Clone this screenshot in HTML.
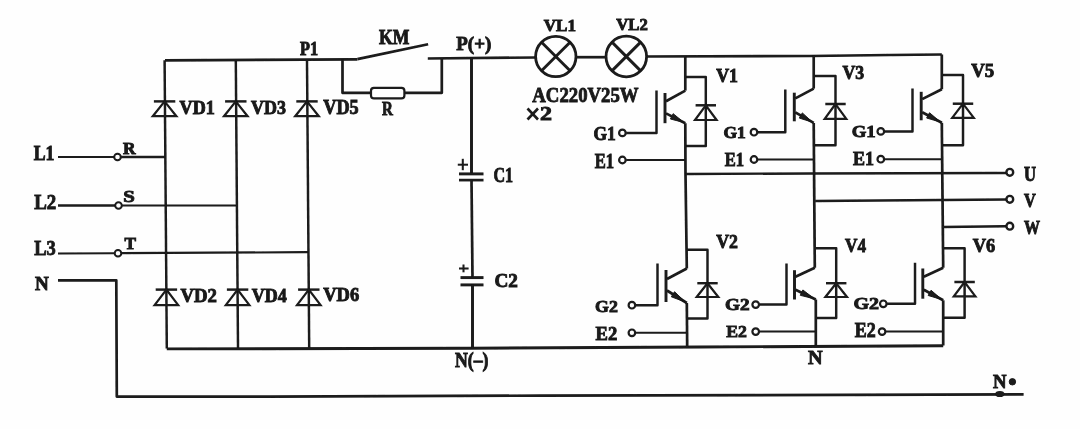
<!DOCTYPE html>
<html><head><meta charset="utf-8"><style>
html,body{margin:0;padding:0;background:#fff;}
svg{display:block;will-change:transform;}
text{fill:#1a1a1a;}
</style></head><body>
<svg width="1080" height="429" viewBox="0 0 1080 429">
<defs><filter id="b" x="0" y="0" width="1080" height="429" filterUnits="userSpaceOnUse"><feGaussianBlur stdDeviation="0.4"/></filter></defs>
<rect width="1080" height="429" fill="#fefefe"/>
<g filter="url(#b)">
<text x="33.75" y="160.25" font-family="Liberation Serif" font-weight="bold" font-size="20.31" textLength="20.76" lengthAdjust="spacingAndGlyphs" stroke="#1a1a1a" stroke-width="0.9">L1</text>
<path d="M58,157 L114,157" stroke="#1a1a1a" stroke-width="2.02" fill="none" stroke-linejoin="round"/>
<circle cx="117.5" cy="157" r="3.3" stroke="#1a1a1a" stroke-width="2" fill="none"/>
<path d="M121,157 L165,157" stroke="#1a1a1a" stroke-width="2.46" fill="none" stroke-linejoin="round"/>
<text x="123.00" y="154.25" font-family="Liberation Serif" font-weight="bold" font-size="16.51" textLength="12.54" lengthAdjust="spacingAndGlyphs" stroke="#1a1a1a" stroke-width="0.9">R</text>
<text x="34.25" y="208.75" font-family="Liberation Serif" font-weight="bold" font-size="20.33" textLength="22.02" lengthAdjust="spacingAndGlyphs" stroke="#1a1a1a" stroke-width="0.9">L2</text>
<path d="M58,205.5 L115,205.5" stroke="#1a1a1a" stroke-width="2.46" fill="none" stroke-linejoin="round"/>
<circle cx="118.5" cy="205.5" r="3.3" stroke="#1a1a1a" stroke-width="2" fill="none"/>
<path d="M122,205.5 L236,205.5" stroke="#1a1a1a" stroke-width="2.02" fill="none" stroke-linejoin="round"/>
<text x="123.25" y="201.50" font-family="Liberation Serif" font-weight="bold" font-size="17.67" textLength="11.61" lengthAdjust="spacingAndGlyphs" stroke="#1a1a1a" stroke-width="0.9">S</text>
<text x="34.25" y="255.25" font-family="Liberation Serif" font-weight="bold" font-size="21.15" textLength="21.51" lengthAdjust="spacingAndGlyphs" stroke="#1a1a1a" stroke-width="0.9">L3</text>
<path d="M58,253.5 L114,253.3" stroke="#1a1a1a" stroke-width="2.02" fill="none" stroke-linejoin="round"/>
<circle cx="118" cy="253.2" r="3.3" stroke="#1a1a1a" stroke-width="2" fill="none"/>
<path d="M121.5,253.2 L308,252.2" stroke="#1a1a1a" stroke-width="2.24" fill="none" stroke-linejoin="round"/>
<text x="124.50" y="248.75" font-family="Liberation Serif" font-weight="bold" font-size="17.27" textLength="11.52" lengthAdjust="spacingAndGlyphs" stroke="#1a1a1a" stroke-width="0.9">T</text>
<text x="35.00" y="289.75" font-family="Liberation Serif" font-weight="bold" font-size="18.79" textLength="13.75" lengthAdjust="spacingAndGlyphs" stroke="#1a1a1a" stroke-width="0.9">N</text>
<path d="M58,280.3 L116.3,280.3 L116.8,396.6 L270,396.6 L540,395.6 L1023.6,394.4" stroke="#1a1a1a" stroke-width="2.69" fill="none" stroke-linejoin="round"/>
<ellipse cx="999.8" cy="394" rx="4.6" ry="3.1" fill="#1a1a1a"/>
<text x="993.00" y="387.75" font-family="Liberation Serif" font-weight="bold" font-size="18.77" textLength="13.51" lengthAdjust="spacingAndGlyphs" stroke="#1a1a1a" stroke-width="0.9">N</text>
<circle cx="1012.4" cy="381.8" r="3.2" stroke="#1a1a1a" stroke-width="1" fill="#1a1a1a"/>
<path d="M164.6,60.3 L166.8,348.5" stroke="#1a1a1a" stroke-width="2.46" fill="none" stroke-linejoin="round"/>
<path d="M235.8,60.3 L238,348.5" stroke="#1a1a1a" stroke-width="2.46" fill="none" stroke-linejoin="round"/>
<path d="M307,60.3 L309.2,348.5" stroke="#1a1a1a" stroke-width="2.46" fill="none" stroke-linejoin="round"/>
<path d="M165,60.3 L357.4,59.3" stroke="#1a1a1a" stroke-width="2.69" fill="none" stroke-linejoin="round"/>
<path d="M166.8,348.9 L470,348.2 L700,347 L943.2,345.7" stroke="#1a1a1a" stroke-width="2.91" fill="none" stroke-linejoin="round"/>
<path d="M153.9,101.4 L175.3,101.4" stroke="#1a1a1a" stroke-width="2.46" fill="none" stroke-linejoin="round"/>
<path d="M164.6,101.4 L152.8,116.2 L176.4,116.2 Z" stroke="#1a1a1a" stroke-width="2.2" fill="none" stroke-linejoin="miter"/>
<path d="M155.7,289.6 L177.1,289.6" stroke="#1a1a1a" stroke-width="2.46" fill="none" stroke-linejoin="round"/>
<path d="M166.4,289.6 L154.6,305.2 L178.2,305.2 Z" stroke="#1a1a1a" stroke-width="2.2" fill="none" stroke-linejoin="miter"/>
<path d="M225.1,101.4 L246.5,101.4" stroke="#1a1a1a" stroke-width="2.46" fill="none" stroke-linejoin="round"/>
<path d="M235.8,101.4 L224,116.2 L247.6,116.2 Z" stroke="#1a1a1a" stroke-width="2.2" fill="none" stroke-linejoin="miter"/>
<path d="M226.9,289.6 L248.3,289.6" stroke="#1a1a1a" stroke-width="2.46" fill="none" stroke-linejoin="round"/>
<path d="M237.6,289.6 L225.8,305.2 L249.4,305.2 Z" stroke="#1a1a1a" stroke-width="2.2" fill="none" stroke-linejoin="miter"/>
<path d="M296.3,101.4 L317.7,101.4" stroke="#1a1a1a" stroke-width="2.46" fill="none" stroke-linejoin="round"/>
<path d="M307,101.4 L295.2,116.2 L318.8,116.2 Z" stroke="#1a1a1a" stroke-width="2.2" fill="none" stroke-linejoin="miter"/>
<path d="M298.1,289.6 L319.5,289.6" stroke="#1a1a1a" stroke-width="2.46" fill="none" stroke-linejoin="round"/>
<path d="M308.8,289.6 L297,305.2 L320.6,305.2 Z" stroke="#1a1a1a" stroke-width="2.2" fill="none" stroke-linejoin="miter"/>
<text x="179.55" y="114.25" font-family="Liberation Serif" font-weight="bold" font-size="18.99" textLength="35.27" lengthAdjust="spacingAndGlyphs" stroke="#1a1a1a" stroke-width="0.9">VD1</text>
<text x="250.95" y="114.25" font-family="Liberation Serif" font-weight="bold" font-size="18.99" textLength="35.01" lengthAdjust="spacingAndGlyphs" stroke="#1a1a1a" stroke-width="0.9">VD3</text>
<text x="323.25" y="114.25" font-family="Liberation Serif" font-weight="bold" font-size="20.00" textLength="35.50" lengthAdjust="spacingAndGlyphs" stroke="#1a1a1a" stroke-width="0.9">VD5</text>
<text x="180.50" y="301.75" font-family="Liberation Serif" font-weight="bold" font-size="18.87" textLength="36.50" lengthAdjust="spacingAndGlyphs" stroke="#1a1a1a" stroke-width="0.9">VD2</text>
<text x="251.75" y="301.75" font-family="Liberation Serif" font-weight="bold" font-size="18.86" textLength="35.00" lengthAdjust="spacingAndGlyphs" stroke="#1a1a1a" stroke-width="0.9">VD4</text>
<text x="323.25" y="300.75" font-family="Liberation Serif" font-weight="bold" font-size="18.90" textLength="36.00" lengthAdjust="spacingAndGlyphs" stroke="#1a1a1a" stroke-width="0.9">VD6</text>
<text x="300.00" y="54.75" font-family="Liberation Serif" font-weight="bold" font-size="18.00" textLength="18.03" lengthAdjust="spacingAndGlyphs" stroke="#1a1a1a" stroke-width="0.9">P1</text>
<path d="M357.4,59.1 L428.1,44.2" stroke="#1a1a1a" stroke-width="2.69" fill="none" stroke-linejoin="round"/>
<path d="M427.8,58.5 L535.6,57.5" stroke="#1a1a1a" stroke-width="2.69" fill="none" stroke-linejoin="round"/>
<path d="M342.5,59.3 L342.5,92.8 L371,92.8" stroke="#1a1a1a" stroke-width="2.69" fill="none" stroke-linejoin="round"/>
<path d="M404,92.8 L441.8,92.8 L441.8,58.5" stroke="#1a1a1a" stroke-width="2.69" fill="none" stroke-linejoin="round"/>
<rect x="371" y="87.8" width="33.4" height="10.6" rx="3" stroke="#1a1a1a" stroke-width="2.2" fill="#fff"/>
<text x="379.00" y="43.50" font-family="Liberation Serif" font-weight="bold" font-size="19.93" textLength="30.25" lengthAdjust="spacingAndGlyphs" stroke="#1a1a1a" stroke-width="0.9">KM</text>
<text x="382.00" y="114.85" font-family="Liberation Serif" font-weight="bold" font-size="18.60" textLength="10.86" lengthAdjust="spacingAndGlyphs" stroke="#1a1a1a" stroke-width="0.9">R</text>
<text x="456.3" y="50.2" font-family="Liberation Serif" font-weight="bold" font-size="19.5" textLength="35" lengthAdjust="spacingAndGlyphs" stroke="#1a1a1a" stroke-width="0.9">P(+)</text>
<path d="M471.5,57.8 L471.5,173.9" stroke="#1a1a1a" stroke-width="2.91" fill="none" stroke-linejoin="round"/>
<path d="M459,173.9 L483.5,173.9" stroke="#1a1a1a" stroke-width="2.91" fill="none" stroke-linejoin="round"/>
<path d="M459,180.1 L483.5,180.1" stroke="#1a1a1a" stroke-width="2.69" fill="none" stroke-linejoin="round"/>
<path d="M471.5,180.1 L472.5,277.6" stroke="#1a1a1a" stroke-width="2.69" fill="none" stroke-linejoin="round"/>
<path d="M460.5,277.6 L483.5,277.6" stroke="#1a1a1a" stroke-width="2.91" fill="none" stroke-linejoin="round"/>
<path d="M460.5,284.9 L483.5,284.9" stroke="#1a1a1a" stroke-width="2.91" fill="none" stroke-linejoin="round"/>
<path d="M472.5,284.9 L472.5,348" stroke="#1a1a1a" stroke-width="2.91" fill="none" stroke-linejoin="round"/>
<path d="M457.8,164.7 L468,164.7" stroke="#1a1a1a" stroke-width="2.02" fill="none" stroke-linejoin="round"/>
<path d="M462.8,158.8 L462.8,170.2" stroke="#1a1a1a" stroke-width="2.02" fill="none" stroke-linejoin="round"/>
<path d="M459,268.5 L468.6,268.5" stroke="#1a1a1a" stroke-width="2.02" fill="none" stroke-linejoin="round"/>
<path d="M463.5,264.5 L463.5,272.3" stroke="#1a1a1a" stroke-width="2.02" fill="none" stroke-linejoin="round"/>
<text x="493.50" y="181.50" font-family="Liberation Serif" font-weight="bold" font-size="19.93" textLength="19.56" lengthAdjust="spacingAndGlyphs" stroke="#1a1a1a" stroke-width="0.9">C1</text>
<text x="494.50" y="287.00" font-family="Liberation Serif" font-weight="bold" font-size="19.17" textLength="23.46" lengthAdjust="spacingAndGlyphs" stroke="#1a1a1a" stroke-width="0.9">C2</text>
<text x="455" y="366.6" font-family="Liberation Serif" font-weight="bold" font-size="20.5" textLength="33.5" lengthAdjust="spacingAndGlyphs" stroke="#1a1a1a" stroke-width="0.9">N(–)</text>
<circle cx="555.8" cy="56.5" r="20.2" stroke="#1a1a1a" stroke-width="2.8" fill="none"/>
<path d="M541.517,42.2166 L570.083,70.7834" stroke="#1a1a1a" stroke-width="2.91" fill="none" stroke-linejoin="round"/>
<path d="M541.517,70.7834 L570.083,42.2166" stroke="#1a1a1a" stroke-width="2.91" fill="none" stroke-linejoin="round"/>
<circle cx="626.3" cy="56.5" r="20.3" stroke="#1a1a1a" stroke-width="2.8" fill="none"/>
<path d="M611.946,42.1459 L640.654,70.8541" stroke="#1a1a1a" stroke-width="2.91" fill="none" stroke-linejoin="round"/>
<path d="M611.946,70.8541 L640.654,42.1459" stroke="#1a1a1a" stroke-width="2.91" fill="none" stroke-linejoin="round"/>
<path d="M576,57.2 L606,57.2" stroke="#1a1a1a" stroke-width="2.69" fill="none" stroke-linejoin="round"/>
<path d="M646.6,56.5 L810,56 L890,55 L941.8,54.5" stroke="#1a1a1a" stroke-width="2.69" fill="none" stroke-linejoin="round"/>
<text x="543.75" y="30.50" font-family="Liberation Serif" font-weight="bold" font-size="17.66" textLength="32.26" lengthAdjust="spacingAndGlyphs" stroke="#1a1a1a" stroke-width="0.9">VL1</text>
<text x="616.25" y="30.00" font-family="Liberation Serif" font-weight="bold" font-size="16.90" textLength="31.51" lengthAdjust="spacingAndGlyphs" stroke="#1a1a1a" stroke-width="0.9">VL2</text>
<text x="532.30" y="101.60" font-family="Liberation Serif" font-weight="bold" font-size="21.83" textLength="106.30" lengthAdjust="spacingAndGlyphs" stroke="#1a1a1a" stroke-width="0.9">AC220V25W</text>
<path d="M527.5,108.5 L538,119.5" stroke="#1a1a1a" stroke-width="2.58" fill="none" stroke-linejoin="round"/>
<path d="M527.5,119.5 L538,108.5" stroke="#1a1a1a" stroke-width="2.58" fill="none" stroke-linejoin="round"/>
<text x="540.00" y="120.40" font-family="Liberation Serif" font-weight="bold" font-size="19.85" textLength="12.00" lengthAdjust="spacingAndGlyphs" stroke="#1a1a1a" stroke-width="0.9">2</text>
<path d="M685.3,77 L705.8,77 L705.8,146.1 L685.3,146.1" stroke="#1a1a1a" stroke-width="2.46" fill="none" stroke-linejoin="round"/>
<path d="M685.3,90.6 L666,101.2" stroke="#1a1a1a" stroke-width="2.69" fill="none" stroke-linejoin="round"/>
<path d="M666,113.4 L685.3,123.2" stroke="#1a1a1a" stroke-width="2.69" fill="none" stroke-linejoin="round"/>
<path d="M670.43,119.01 L683.95,122.51 L673.15,113.67 Z" fill="#1a1a1a" stroke="#1a1a1a" stroke-width="1"/>
<path d="M665,93 L665,123.2" stroke="#1a1a1a" stroke-width="2.91" fill="none" stroke-linejoin="round"/>
<path d="M626.2,132.9 L656.5,132.9 L656.5,90.6" stroke="#1a1a1a" stroke-width="2.46" fill="none" stroke-linejoin="round"/>
<circle cx="622.4" cy="132.9" r="3.3" stroke="#1a1a1a" stroke-width="2.2" fill="none"/>
<circle cx="622.4" cy="160" r="3.3" stroke="#1a1a1a" stroke-width="2.2" fill="none"/>
<path d="M626.2,160 L685.3,160" stroke="#1a1a1a" stroke-width="2.02" fill="none" stroke-linejoin="round"/>
<path d="M695.6,105.3 L716,105.3" stroke="#1a1a1a" stroke-width="2.46" fill="none" stroke-linejoin="round"/>
<path d="M705.8,105.3 L695,120 L716.6,120 Z" stroke="#1a1a1a" stroke-width="2.2" fill="none" stroke-linejoin="miter"/>
<path d="M813.7,76 L835.5,76 L835.5,145.3 L813.7,145.3" stroke="#1a1a1a" stroke-width="2.46" fill="none" stroke-linejoin="round"/>
<path d="M813.7,88.6 L795.3,98.4" stroke="#1a1a1a" stroke-width="2.69" fill="none" stroke-linejoin="round"/>
<path d="M795.3,112.3 L813.7,122.9" stroke="#1a1a1a" stroke-width="2.69" fill="none" stroke-linejoin="round"/>
<path d="M799.32,118.08 L812.41,122.16 L802.32,112.88 Z" fill="#1a1a1a" stroke="#1a1a1a" stroke-width="1"/>
<path d="M794.3,92.7 L794.3,121.3" stroke="#1a1a1a" stroke-width="2.91" fill="none" stroke-linejoin="round"/>
<path d="M757.8,132.2 L785.3,132.2 L785.3,89.5" stroke="#1a1a1a" stroke-width="2.46" fill="none" stroke-linejoin="round"/>
<circle cx="754" cy="132.2" r="3.3" stroke="#1a1a1a" stroke-width="2.2" fill="none"/>
<circle cx="754" cy="159.5" r="3.3" stroke="#1a1a1a" stroke-width="2.2" fill="none"/>
<path d="M757.8,159.5 L813.7,159.5" stroke="#1a1a1a" stroke-width="2.02" fill="none" stroke-linejoin="round"/>
<path d="M825.3,104 L845.7,104" stroke="#1a1a1a" stroke-width="2.46" fill="none" stroke-linejoin="round"/>
<path d="M835.5,104 L824.7,118.8 L846.3,118.8 Z" stroke="#1a1a1a" stroke-width="2.2" fill="none" stroke-linejoin="miter"/>
<path d="M941.8,75 L963,75 L963,145.3 L941.8,145.3" stroke="#1a1a1a" stroke-width="2.46" fill="none" stroke-linejoin="round"/>
<path d="M941.8,89.3 L922.2,99.1" stroke="#1a1a1a" stroke-width="2.69" fill="none" stroke-linejoin="round"/>
<path d="M922.2,112.2 L941.8,122.8" stroke="#1a1a1a" stroke-width="2.69" fill="none" stroke-linejoin="round"/>
<path d="M926.65,118.02 L940.43,122.06 L929.51,112.74 Z" fill="#1a1a1a" stroke="#1a1a1a" stroke-width="1"/>
<path d="M921.2,91.8 L921.2,120.3" stroke="#1a1a1a" stroke-width="2.91" fill="none" stroke-linejoin="round"/>
<path d="M884.6,131.4 L912.5,131.4 L912.5,88.5" stroke="#1a1a1a" stroke-width="2.46" fill="none" stroke-linejoin="round"/>
<circle cx="880.8" cy="131.4" r="3.3" stroke="#1a1a1a" stroke-width="2.2" fill="none"/>
<circle cx="880.8" cy="159.2" r="3.3" stroke="#1a1a1a" stroke-width="2.2" fill="none"/>
<path d="M884.6,159.2 L941.8,159.2" stroke="#1a1a1a" stroke-width="2.02" fill="none" stroke-linejoin="round"/>
<path d="M952.8,103.7 L973.2,103.7" stroke="#1a1a1a" stroke-width="2.46" fill="none" stroke-linejoin="round"/>
<path d="M963,103.7 L952.2,117.9 L973.8,117.9 Z" stroke="#1a1a1a" stroke-width="2.2" fill="none" stroke-linejoin="miter"/>
<path d="M686.8,249.8 L707.5,249.8 L707.5,318.6 L686.8,318.6" stroke="#1a1a1a" stroke-width="2.46" fill="none" stroke-linejoin="round"/>
<path d="M686.8,268.5 L667,279" stroke="#1a1a1a" stroke-width="2.69" fill="none" stroke-linejoin="round"/>
<path d="M667,290.5 L686.8,303" stroke="#1a1a1a" stroke-width="2.69" fill="none" stroke-linejoin="round"/>
<path d="M671.34,296.79 L685.41,302.12 L674.54,291.71 Z" fill="#1a1a1a" stroke="#1a1a1a" stroke-width="1"/>
<path d="M666,270 L666,302" stroke="#1a1a1a" stroke-width="2.91" fill="none" stroke-linejoin="round"/>
<path d="M635.7,305.2 L657.5,305.2 L657.5,263.6" stroke="#1a1a1a" stroke-width="2.46" fill="none" stroke-linejoin="round"/>
<circle cx="631.9" cy="305.2" r="3.3" stroke="#1a1a1a" stroke-width="2.2" fill="none"/>
<circle cx="631.9" cy="332.8" r="3.3" stroke="#1a1a1a" stroke-width="2.2" fill="none"/>
<path d="M635.7,332.8 L686.8,332.8" stroke="#1a1a1a" stroke-width="2.02" fill="none" stroke-linejoin="round"/>
<path d="M697.3,283.2 L717.7,283.2" stroke="#1a1a1a" stroke-width="2.46" fill="none" stroke-linejoin="round"/>
<path d="M707.5,283.2 L696.7,297 L718.3,297 Z" stroke="#1a1a1a" stroke-width="2.2" fill="none" stroke-linejoin="miter"/>
<path d="M814.8,248.2 L836.2,248.2 L836.2,318 L815.8,318" stroke="#1a1a1a" stroke-width="2.46" fill="none" stroke-linejoin="round"/>
<path d="M814.8,267.7 L795.5,276.7" stroke="#1a1a1a" stroke-width="2.69" fill="none" stroke-linejoin="round"/>
<path d="M795.5,289.7 L815.8,299.5" stroke="#1a1a1a" stroke-width="2.69" fill="none" stroke-linejoin="round"/>
<path d="M800.29,295.34 L814.38,298.81 L802.89,289.94 Z" fill="#1a1a1a" stroke="#1a1a1a" stroke-width="1"/>
<path d="M794.5,270.2 L794.5,299.5" stroke="#1a1a1a" stroke-width="2.91" fill="none" stroke-linejoin="round"/>
<path d="M759.5,304.6 L786.5,304.6 L786.5,263.6" stroke="#1a1a1a" stroke-width="2.46" fill="none" stroke-linejoin="round"/>
<circle cx="755.7" cy="304.6" r="3.3" stroke="#1a1a1a" stroke-width="2.2" fill="none"/>
<circle cx="755.7" cy="331.6" r="3.3" stroke="#1a1a1a" stroke-width="2.2" fill="none"/>
<path d="M759.5,331.6 L815.8,331.6" stroke="#1a1a1a" stroke-width="2.02" fill="none" stroke-linejoin="round"/>
<path d="M826,283.2 L846.4,283.2" stroke="#1a1a1a" stroke-width="2.46" fill="none" stroke-linejoin="round"/>
<path d="M836.2,283.2 L825.4,297 L847,297 Z" stroke="#1a1a1a" stroke-width="2.2" fill="none" stroke-linejoin="miter"/>
<path d="M943.2,248.2 L964.6,248.2 L964.6,317.7 L943.2,317.7" stroke="#1a1a1a" stroke-width="2.46" fill="none" stroke-linejoin="round"/>
<path d="M943.2,267.7 L923.8,276.7" stroke="#1a1a1a" stroke-width="2.69" fill="none" stroke-linejoin="round"/>
<path d="M923.8,289.7 L943.2,300.3" stroke="#1a1a1a" stroke-width="2.69" fill="none" stroke-linejoin="round"/>
<path d="M928.18,295.51 L941.84,299.56 L931.06,290.25 Z" fill="#1a1a1a" stroke="#1a1a1a" stroke-width="1"/>
<path d="M922.8,268.5 L922.8,298.7" stroke="#1a1a1a" stroke-width="2.91" fill="none" stroke-linejoin="round"/>
<path d="M887.1,303.8 L915,303.8 L915,262.8" stroke="#1a1a1a" stroke-width="2.46" fill="none" stroke-linejoin="round"/>
<circle cx="883.3" cy="303.8" r="3.3" stroke="#1a1a1a" stroke-width="2.2" fill="none"/>
<circle cx="882.1" cy="331.6" r="3.3" stroke="#1a1a1a" stroke-width="2.2" fill="none"/>
<path d="M885.9,331.6 L943.2,331.6" stroke="#1a1a1a" stroke-width="2.02" fill="none" stroke-linejoin="round"/>
<path d="M954.4,282 L974.8,282" stroke="#1a1a1a" stroke-width="2.46" fill="none" stroke-linejoin="round"/>
<path d="M964.6,282 L953.8,296.3 L975.4,296.3 Z" stroke="#1a1a1a" stroke-width="2.2" fill="none" stroke-linejoin="miter"/>
<path d="M685.3,56.5 L685.3,90.6" stroke="#1a1a1a" stroke-width="2.69" fill="none" stroke-linejoin="round"/>
<path d="M685.3,123.2 L685.5,174 L686.8,268.5" stroke="#1a1a1a" stroke-width="2.69" fill="none" stroke-linejoin="round"/>
<path d="M686.8,303 L687.2,347" stroke="#1a1a1a" stroke-width="2.69" fill="none" stroke-linejoin="round"/>
<path d="M813.7,55.8 L813.7,88.6" stroke="#1a1a1a" stroke-width="2.69" fill="none" stroke-linejoin="round"/>
<path d="M813.7,122.9 L814.8,267.7" stroke="#1a1a1a" stroke-width="2.69" fill="none" stroke-linejoin="round"/>
<path d="M815.8,299.5 L815.8,345.8" stroke="#1a1a1a" stroke-width="2.69" fill="none" stroke-linejoin="round"/>
<path d="M941.8,54.5 L941.8,89.3" stroke="#1a1a1a" stroke-width="2.69" fill="none" stroke-linejoin="round"/>
<path d="M941.8,122.8 L943.2,267.7" stroke="#1a1a1a" stroke-width="2.69" fill="none" stroke-linejoin="round"/>
<path d="M943.2,300.3 L943.2,345.5" stroke="#1a1a1a" stroke-width="2.69" fill="none" stroke-linejoin="round"/>
<path d="M685.3,173.9 L810,173.5 L1006.5,173" stroke="#1a1a1a" stroke-width="2.46" fill="none" stroke-linejoin="round"/>
<path d="M815.2,201 L1006,199.4" stroke="#1a1a1a" stroke-width="2.46" fill="none" stroke-linejoin="round"/>
<path d="M942.5,227 L1006,226.3" stroke="#1a1a1a" stroke-width="2.46" fill="none" stroke-linejoin="round"/>
<circle cx="1009.8" cy="172.3" r="3.4" stroke="#1a1a1a" stroke-width="2.4" fill="none"/>
<circle cx="1009.8" cy="199.3" r="3.4" stroke="#1a1a1a" stroke-width="2.4" fill="none"/>
<circle cx="1009.8" cy="226.2" r="3.4" stroke="#1a1a1a" stroke-width="2.4" fill="none"/>
<text x="1024.00" y="180.50" font-family="Liberation Serif" font-weight="bold" font-size="19.93" textLength="12.02" lengthAdjust="spacingAndGlyphs" stroke="#1a1a1a" stroke-width="0.9">U</text>
<text x="1024.00" y="207.25" font-family="Liberation Serif" font-weight="bold" font-size="18.83" textLength="11.78" lengthAdjust="spacingAndGlyphs" stroke="#1a1a1a" stroke-width="0.9">V</text>
<text x="1024.00" y="234.25" font-family="Liberation Serif" font-weight="bold" font-size="18.83" textLength="16.00" lengthAdjust="spacingAndGlyphs" stroke="#1a1a1a" stroke-width="0.9">W</text>
<text x="716.25" y="81.75" font-family="Liberation Serif" font-weight="bold" font-size="18.83" textLength="21.77" lengthAdjust="spacingAndGlyphs" stroke="#1a1a1a" stroke-width="0.9">V1</text>
<text x="842.50" y="79.25" font-family="Liberation Serif" font-weight="bold" font-size="19.59" textLength="21.76" lengthAdjust="spacingAndGlyphs" stroke="#1a1a1a" stroke-width="0.9">V3</text>
<text x="971.25" y="76.75" font-family="Liberation Serif" font-weight="bold" font-size="18.83" textLength="23.01" lengthAdjust="spacingAndGlyphs" stroke="#1a1a1a" stroke-width="0.9">V5</text>
<text x="716.25" y="248.25" font-family="Liberation Serif" font-weight="bold" font-size="19.59" textLength="21.76" lengthAdjust="spacingAndGlyphs" stroke="#1a1a1a" stroke-width="0.9">V2</text>
<text x="845.00" y="252.25" font-family="Liberation Serif" font-weight="bold" font-size="19.59" textLength="21.01" lengthAdjust="spacingAndGlyphs" stroke="#1a1a1a" stroke-width="0.9">V4</text>
<text x="972.75" y="252.25" font-family="Liberation Serif" font-weight="bold" font-size="19.59" textLength="22.51" lengthAdjust="spacingAndGlyphs" stroke="#1a1a1a" stroke-width="0.9">V6</text>
<text x="593.40" y="139.90" font-family="Liberation Serif" font-weight="bold" font-size="18.58" textLength="22.27" lengthAdjust="spacingAndGlyphs" stroke="#1a1a1a" stroke-width="0.9">G1</text>
<text x="594.70" y="167.85" font-family="Liberation Serif" font-weight="bold" font-size="19.98" textLength="19.34" lengthAdjust="spacingAndGlyphs" stroke="#1a1a1a" stroke-width="0.9">E1</text>
<text x="723.40" y="138.30" font-family="Liberation Serif" font-weight="bold" font-size="16.13" textLength="22.27" lengthAdjust="spacingAndGlyphs" stroke="#1a1a1a" stroke-width="0.9">G1</text>
<text x="724.70" y="166.25" font-family="Liberation Serif" font-weight="bold" font-size="18.77" textLength="19.33" lengthAdjust="spacingAndGlyphs" stroke="#1a1a1a" stroke-width="0.9">E1</text>
<text x="851.70" y="136.60" font-family="Liberation Serif" font-weight="bold" font-size="17.20" textLength="23.96" lengthAdjust="spacingAndGlyphs" stroke="#1a1a1a" stroke-width="0.9">G1</text>
<text x="853.00" y="164.65" font-family="Liberation Serif" font-weight="bold" font-size="18.93" textLength="21.02" lengthAdjust="spacingAndGlyphs" stroke="#1a1a1a" stroke-width="0.9">E1</text>
<text x="595.00" y="312.30" font-family="Liberation Serif" font-weight="bold" font-size="17.20" textLength="22.81" lengthAdjust="spacingAndGlyphs" stroke="#1a1a1a" stroke-width="0.9">G2</text>
<text x="595.50" y="339.55" font-family="Liberation Serif" font-weight="bold" font-size="18.93" textLength="21.72" lengthAdjust="spacingAndGlyphs" stroke="#1a1a1a" stroke-width="0.9">E2</text>
<text x="725.00" y="309.90" font-family="Liberation Serif" font-weight="bold" font-size="15.99" textLength="24.50" lengthAdjust="spacingAndGlyphs" stroke="#1a1a1a" stroke-width="0.9">G2</text>
<text x="726.30" y="337.05" font-family="Liberation Serif" font-weight="bold" font-size="17.72" textLength="20.68" lengthAdjust="spacingAndGlyphs" stroke="#1a1a1a" stroke-width="0.9">E2</text>
<text x="853.40" y="309.10" font-family="Liberation Serif" font-weight="bold" font-size="17.37" textLength="25.56" lengthAdjust="spacingAndGlyphs" stroke="#1a1a1a" stroke-width="0.9">G2</text>
<text x="854.70" y="337.05" font-family="Liberation Serif" font-weight="bold" font-size="20.00" textLength="20.93" lengthAdjust="spacingAndGlyphs" stroke="#1a1a1a" stroke-width="0.9">E2</text>
<text x="808.00" y="363.75" font-family="Liberation Serif" font-weight="bold" font-size="19.68" textLength="14.61" lengthAdjust="spacingAndGlyphs" stroke="#1a1a1a" stroke-width="0.9">N</text>
</g>
</svg>
</body></html>
